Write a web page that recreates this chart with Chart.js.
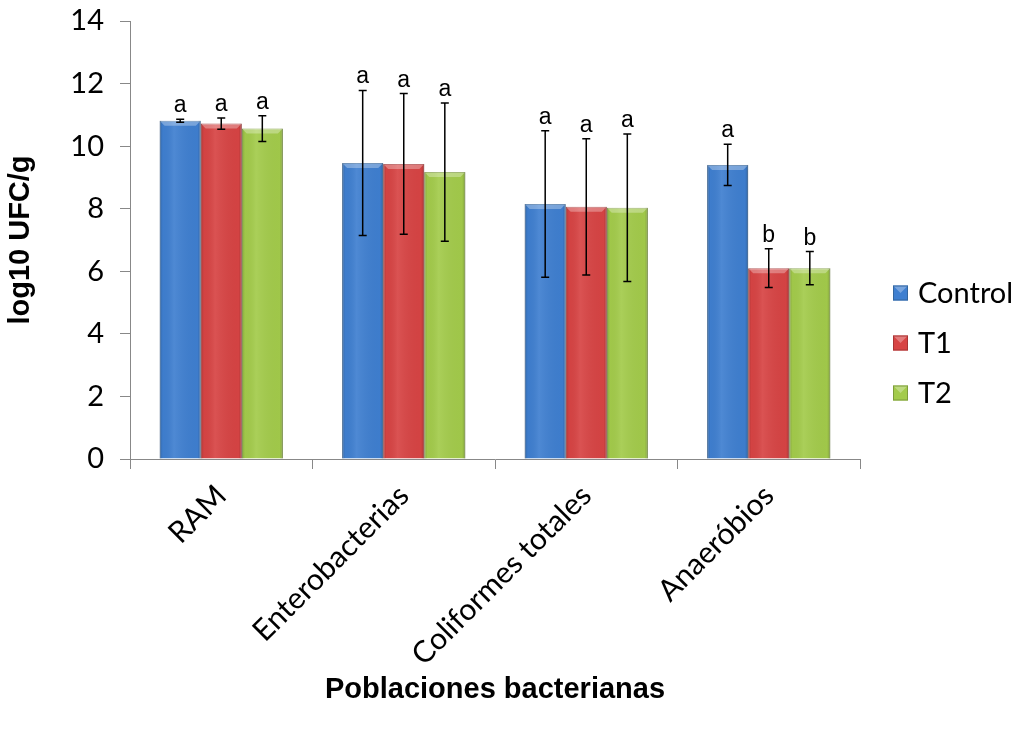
<!DOCTYPE html>
<html>
<head>
<meta charset="utf-8">
<script src="https://cdn.jsdelivr.net/npm/chart.js@4.4.1/dist/chart.umd.min.js"></script>
<style>
  html, body { margin: 0; padding: 0; background: #fff; }
  canvas { display: block; }
</style>
</head>
<body>
<canvas id="grafico" width="1018" height="729"></canvas>
<script>
// Datos
const categorias = ['RAM', 'Enterobacterias', 'Coliformes totales', 'Anaeróbios'];
const series = ['Control', 'T1', 'T2'];
const control = [10.81, 9.46, 8.15, 9.40];
const t1 = [10.72, 9.43, 8.06, 6.10];
const t2 = [10.56, 9.17, 8.03, 6.10];
// desviaciones (barras de error)
const errControl = [0.05, 2.32, 2.34, 0.66];
const errT1 = [0.18, 2.25, 2.18, 0.62];
const errT2 = [0.41, 2.21, 2.36, 0.53];
// letras de significancia
const letrasControl = ['a', 'a', 'a', 'a'];
const letrasT1 = ['a', 'a', 'a', 'b'];
const letrasT2 = ['a', 'a', 'a', 'b'];
// eje Y
const yMin = 0, yMax = 14, yPaso = 2;

const colores = ['#3f7fd0', '#d74444', '#a3cb4b'];
const bordes = ['#33669f', '#a83434', '#7d9c3a'];
const errores = [errControl, errT1, errT2];
const letras = [letrasControl, letrasT1, letrasT2];

const fuenteTxt = 'Lato, "Open Sans", sans-serif';
const fuenteArial = '"Liberation Sans", Arial, sans-serif';

// efecto de relieve sobre las barras
const relieve = {
  id: 'relieve',
  afterDatasetsDraw(chart) {
    const ctx = chart.ctx;
    chart.data.datasets.forEach((ds, i) => {
      chart.getDatasetMeta(i).data.forEach(bar => {
        const p = bar.getProps(['x', 'y', 'base', 'width'], true);
        const l = p.x - p.width / 2, r = p.x + p.width / 2;
        const g = ctx.createLinearGradient(l, 0, r, 0);
        g.addColorStop(0, 'rgba(0,0,0,0.18)');
        g.addColorStop(0.08, 'rgba(0,0,0,0.02)');
        g.addColorStop(0.35, 'rgba(255,255,255,0.08)');
        g.addColorStop(0.92, 'rgba(0,0,0,0.02)');
        g.addColorStop(1, 'rgba(0,0,0,0.2)');
        ctx.save();
        ctx.fillStyle = g;
        ctx.fillRect(l, p.y, p.width, p.base - p.y);
        // bisel superior
        ctx.beginPath();
        ctx.moveTo(l, p.y);
        ctx.lineTo(r, p.y);
        ctx.lineTo(r - 5, p.y + 5);
        ctx.lineTo(l + 5, p.y + 5);
        ctx.closePath();
        ctx.fillStyle = 'rgba(255,255,255,0.3)';
        ctx.fill();
        ctx.restore();
      });
    });
  }
};

// barras de error y letras
const barrasError = {
  id: 'barrasError',
  afterDatasetsDraw(chart) {
    const ctx = chart.ctx;
    const y = chart.scales.y;
    ctx.save();
    ctx.strokeStyle = '#000';
    ctx.lineWidth = 1.5;
    ctx.fillStyle = '#000';
    ctx.font = '23px ' + fuenteArial;
    ctx.textAlign = 'center';
    ctx.textBaseline = 'alphabetic';
    chart.data.datasets.forEach((ds, i) => {
      chart.getDatasetMeta(i).data.forEach((bar, j) => {
        const v = ds.data[j];
        const e = errores[i][j];
        const x = bar.x;
        const yTop = y.getPixelForValue(v + e);
        const yBot = y.getPixelForValue(v - e);
        ctx.beginPath();
        ctx.moveTo(x, yTop); ctx.lineTo(x, yBot);
        ctx.moveTo(x - 4, yTop); ctx.lineTo(x + 4, yTop);
        ctx.moveTo(x - 4, yBot); ctx.lineTo(x + 4, yBot);
        ctx.stroke();
        ctx.fillText(letras[i][j], x, yTop - 7);
      });
    });
    ctx.restore();
  }
};

// leyenda a la derecha
const leyenda = {
  id: 'leyenda',
  afterDraw(chart) {
    const ctx = chart.ctx;
    ctx.save();
    ctx.font = '29px ' + fuenteTxt;
    ctx.textBaseline = 'middle';
    ctx.textAlign = 'left';
    chart.data.datasets.forEach((ds, i) => {
      const cy = 293 + i * 50;
      const x0 = 893, s = 15;
      ctx.fillStyle = colores[i];
      ctx.fillRect(x0, cy - s / 2, s, s);
      ctx.beginPath();
      ctx.moveTo(x0, cy - s / 2);
      ctx.lineTo(x0 + s, cy - s / 2);
      ctx.lineTo(x0 + s / 2, cy);
      ctx.closePath();
      ctx.fillStyle = 'rgba(255,255,255,0.3)';
      ctx.fill();
      ctx.strokeStyle = bordes[i];
      ctx.lineWidth = 1;
      ctx.strokeRect(x0 + 0.5, cy - s / 2 + 0.5, s - 1, s - 1);
      ctx.fillStyle = '#000';
      ctx.fillText(ds.label, 918, cy + 1);
    });
    ctx.restore();
  }
};

const grafico = new Chart(document.getElementById('grafico'), {
  type: 'bar',
  data: {
    labels: categorias,
    datasets: [control, t1, t2].map((d, i) => ({
      label: series[i],
      data: d,
      backgroundColor: colores[i],
      borderColor: bordes[i],
      borderWidth: 1,
      categoryPercentage: 0.675,
      barPercentage: 1
    }))
  },
  options: {
    responsive: false,
    animation: false,
    layout: { padding: { top: 21, right: 158, left: 0, bottom: 0 } },
    plugins: {
      legend: { display: false },
      tooltip: { enabled: false }
    },
    scales: {
      x: {
        afterFit: s => { s.height = 270; },
        border: { color: '#888', width: 1 },
        grid: { drawOnChartArea: false, drawTicks: true, tickLength: 10, color: '#888', offset: true },
        ticks: {
          color: '#000',
          font: { family: fuenteTxt, size: 30 },
          minRotation: 45,
          maxRotation: 45,
          padding: 9,
          autoSkip: false
        },
        title: {
          display: true,
          text: 'Poblaciones bacterianas',
          color: '#000',
          font: { family: fuenteArial, size: 29, weight: 'bold' },
          padding: { top: 22, bottom: 22 }
        }
      },
      y: {
        min: yMin,
        max: yMax,
        afterFit: s => { s.width = 130; s.paddingTop = 0; s.paddingBottom = 0; },
        border: { color: '#888', width: 1 },
        grid: { drawOnChartArea: false, drawTicks: true, tickLength: 10, color: '#888' },
        ticks: {
          stepSize: yPaso,
          color: '#000',
          font: { family: fuenteTxt, size: 29 },
          padding: 16
        },
        title: {
          display: true,
          text: 'log10 UFC/g',
          color: '#000',
          font: { family: fuenteArial, size: 29, weight: 'bold' },
          padding: { top: 4, bottom: 4 }
        }
      }
    }
  },
  plugins: [relieve, barrasError, leyenda]
});
</script>
</body>
</html>
